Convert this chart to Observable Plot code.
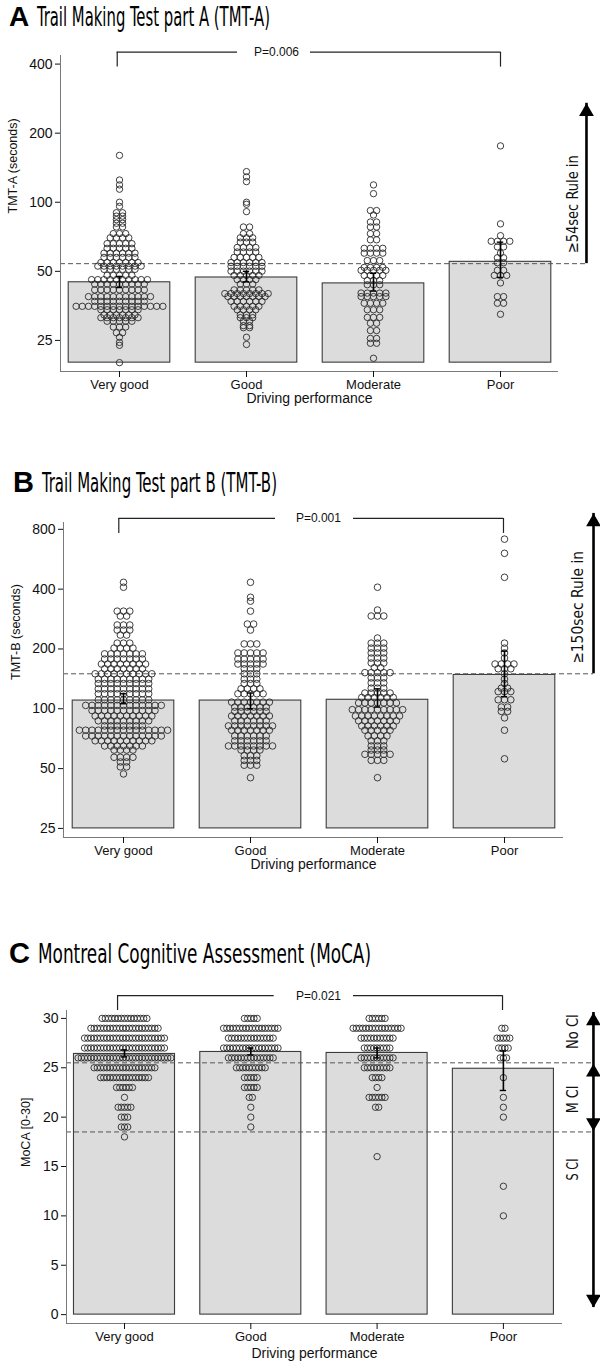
<!DOCTYPE html>
<html><head><meta charset="utf-8">
<script src="https://cdn.jsdelivr.net/npm/d3@7"></script>
<script src="https://cdn.jsdelivr.net/npm/@observablehq/plot@0.6"></script>
<style>
body{margin:0;background:#fff;}
#root{position:relative;width:600px;height:1367px;overflow:hidden;font-family:"Liberation Sans",Arial,sans-serif;}
#root svg{position:absolute;left:0;}
</style></head><body><div id="root"></div>
<script>
const groups = ["Very good", "Good", "Moderate", "Poor"];

// ---------- Panel A: TMT-A (seconds); rows of [seconds, number of drivers]
const tmtAVeryGood = [[160,1],[125,1],[119,1],[114,1],[100,1],[96,1],[90,2],[87,2],[84,2],[81,2],[78,2],[73,3],[70,4],[66,5],[63,5],[60,6],[57.5,6],[54.6,7],[52.7,8],[51,6],[48,5],[46,10],[44,9],[41.5,9],[38.8,11],[37,9],[35.2,15],[34,7],[32.3,6],[31.4,7],[30.3,5],[28.6,3],[27,2],[25.8,1],[24.5,1],[23.8,1],[20,1]];
const tmtAGood = [[136,1],[129,1],[123,1],[100,1],[98,1],[91,1],[78,2],[73,2],[70,3],[67,3],[63.5,4],[60.7,4],[57.5,5],[54.6,6],[52.6,6],[50.1,6],[48,5],[46,4],[44,3],[41.5,5],[40,8],[38.8,7],[37,6],[35.2,5],[34,4],[32.3,3],[31.4,3],[30.3,2],[29,2],[28.4,2],[25.8,1],[24,1]];
const tmtAModerate = [[119,1],[109,1],[92,2],[88,1],[82,2],[78,2],[73,2],[68.6,2],[63,4],[60,4],[55.7,3],[52,4],[50.5,5],[48,4],[45.6,3],[43.7,3],[40.2,5],[38.8,5],[36.3,4],[34,3],[31.5,3],[29.7,2],[27.6,2],[25.5,2],[24.3,2],[20.9,1]];
const tmtAPoor = [[176,1],[80.5,1],[71.5,1],[67.6,4],[63.9,2],[60,1],[57.3,2],[54.5,2],[50.5,2],[48,3],[44.5,1],[38.8,2],[36.3,2],[32.5,1]];
const tmtAMean = [44.8, 47.0, 44.3, 55.0];
const tmtACiLow = [42.5, 45.0, 41.0, 47.0];
const tmtACiHigh = [47.5, 50.0, 49.0, 67.0];
const tmtATicks = [25, 50, 100, 200, 400];
const tmtACutoff = [54];

// ---------- Panel B: TMT-B (seconds)
const tmtBVeryGood = [[433,1],[409,1],[310,3],[293,2],[264,3],[249,3],[235,2],[214,3],[202,4],[189,7],[178,7],[168,8],[159,7],[150,10],[141,9],[134,9],[126,9],[119,9],[111,9],[104,13],[98,11],[92,10],[87,9],[82,7],[78,15],[73,13],[69,10],[65,7],[62,4],[57,4],[54,2],[51,2],[47,1]];
const tmtBGood = [[433,1],[364,1],[348,1],[310,1],[267,2],[249,1],[212,3],[191,5],[178,5],[168,5],[159,3],[150,3],[141,3],[134,3],[126,4],[119,5],[108,7],[102,6],[97,6],[92,7],[87,6],[82,8],[78,7],[73,6],[69,6],[65,8],[62,4],[58,3],[55,3],[52,3],[45,1]];
const tmtBModerate = [[409,1],[314,1],[293,3],[227,1],[214,3],[202,3],[191,3],[180,3],[170,3],[161,2],[152,5],[143,3],[135,3],[127,3],[120,5],[114,6],[107,7],[99,9],[92,8],[87,7],[82,6],[78,5],[73,4],[69,3],[65,3],[62,3],[59,5],[55,3],[45,1]];
const tmtBPoor = [[714,1],[606,1],[459,1],[214,1],[202,1],[191,1],[180,1],[168,4],[159,3],[150,1],[141,1],[134,1],[127,2],[122,3],[111,3],[102,2],[97,2],[90,1],[78,1],[56,1]];
const tmtBMean = [110, 110, 111, 148];
const tmtBCiLow = [106, 100, 102, 115];
const tmtBCiHigh = [119, 120, 126, 195];
const tmtBTicks = [25, 50, 100, 200, 400, 800];
const tmtBCutoff = [150];

// ---------- Panel C: MoCA [0-30]
const mocaVeryGood = [[30,15],[29,22],[28,26],[27,26],[26,30],[25,20],[24,16],[23,6],[22,1],[21,5],[20,3],[19,3],[18,1]];
const mocaGood = [[30,5],[29,18],[28,15],[27,18],[26,15],[25,10],[24,5],[23,5],[22,2],[21,1],[20,1],[19,1]];
const mocaModerate = [[30,6],[29,16],[28,11],[27,9],[26,11],[25,9],[24,4],[23,1],[22,6],[21,2],[16,1]];
const mocaPoor = [[29,2],[28,5],[27,4],[26,3],[24,1],[22,1],[21,1],[20,1],[13,1],[10,1]];
const mocaMean = [26.4, 26.6, 26.5, 24.9];
const mocaCiLow = [26.1, 26.3, 26.0, 22.7];
const mocaCiHigh = [26.8, 27.0, 27.0, 26.7];
const mocaTicks = [0, 5, 10, 15, 20, 25, 30];
const mocaCutoffs = [25.5, 18.5];

// ---------- Titles and annotations
const panelLetters = ["A", "B", "C"];
const panelTitles = ["Trail Making Test part A (TMT-A)", "Trail Making Test part B (TMT-B)", "Montreal Cognitive Assessment (MoCA)"];
const pValues = ["P=0.006", "P=0.001", "P=0.021"];
const yLabels = ["TMT-A (seconds)", "TMT-B (seconds)", "MoCA [0-30]"];
const xLabel = "Driving performance";

const condensed = "'Liberation Sans Narrow','DejaVu Sans Condensed','Arial Narrow',sans-serif";
const fitLengths = new Map();

function makePanel(cfg) {
  const lo = (cfg.marginLeft - cfg.c0) / cfg.p;
  const hi = (600 - cfg.marginRight - cfg.c0) / cfg.p;
  const sp = cfg.spacingPx / cfg.p;
  const dots = [];
  cfg.rows.forEach((grp, i) => grp.forEach(([v, n]) => {
    for (let j = 0; j < n; j++) dots.push({x: i + (j - (n - 1) / 2) * sp, y: v});
  }));
  const bars = groups.map((g, i) => ({i, mean: cfg.mean[i], lo: cfg.ciLow[i], hi: cfg.ciHigh[i]}));
  const b = cfg.bracket;
  cfg.sideTexts.forEach(d => fitLengths.set(d.t, d.len));
  const svg = Plot.plot({
    width: 600, height: cfg.height,
    marginTop: cfg.marginTop, marginBottom: cfg.marginBottom,
    marginLeft: cfg.marginLeft, marginRight: cfg.marginRight,
    x: {type: "linear", domain: [lo, hi]},
    y: {type: cfg.yType, domain: cfg.yDomain},
    style: {fontFamily: "'Liberation Sans', Arial, sans-serif", fontSize: "13px", color: "#111", background: "transparent", overflow: "visible"},
    marks: [
      Plot.rect(bars, {x1: d => d.i - 0.4, x2: d => d.i + 0.4, y1: () => cfg.barBase, y2: "mean", fill: "#dcdcdc", stroke: "#3c3c3c", strokeWidth: 1.1}),
      Plot.ruleY(cfg.cutoffs, {y: d => d, x1: () => lo, x2: () => cfg.arrowX, stroke: "#555", strokeWidth: 1, strokeDasharray: "5,3"}),
      Plot.dot(dots, {x: "x", y: "y", r: cfg.r, stroke: "#2a2a2a", strokeWidth: 0.9, fill: "none"}),
      Plot.ruleX(bars, {x: "i", y1: "lo", y2: "hi", stroke: "black", strokeWidth: 1.6}),
      Plot.ruleY(bars, {y: "lo", x1: d => d.i - 0.025, x2: d => d.i + 0.025, stroke: "black", strokeWidth: 1.4}),
      Plot.ruleY(bars, {y: "hi", x1: d => d.i - 0.025, x2: d => d.i + 0.025, stroke: "black", strokeWidth: 1.4}),
      Plot.ruleX([lo], {x: d => d, y1: () => cfg.yDomain[0], y2: () => cfg.yDomain[1], stroke: "#7a7a7a"}),
      Plot.ruleY([cfg.yDomain[0]], {y: d => d, x1: () => lo, x2: () => hi, stroke: "#7a7a7a"}),
      Plot.axisY(cfg.yTicks, {ticks: 1000, tickSize: 5, tickPadding: 3, tickFormat: d => String(d), label: null, fontSize: 14}),
      Plot.axisX([0, 1, 2, 3], {tickFormat: i => groups[i], tickSize: 6, tickPadding: 2, label: null, fontSize: 13}),
      Plot.text([cfg.yLabel], {frameAnchor: "left", dx: cfg.yLabelDx, rotate: -90, fontSize: 12.5}),
      Plot.text([xLabel], {frameAnchor: "bottom", dy: cfg.xLabelDy, fontSize: 14}),
      Plot.ruleX([b.x1, b.x2], {x: d => d, y1: () => b.yLow, y2: () => b.y, stroke: "#222", strokeWidth: 1.2}),
      Plot.ruleY([[b.x1, b.gap[0]], [b.gap[1], b.x2]], {y: () => b.y, x1: d => d[0], x2: d => d[1], stroke: "#222", strokeWidth: 1.2}),
      Plot.text([cfg.pText], {x: () => b.tx, y: () => b.y, fontSize: 12}),
      Plot.ruleX(cfg.arrowLines, {x: () => cfg.arrowX, y1: d => d[0], y2: d => d[1], stroke: "black", strokeWidth: 2.6}),
      Plot.dot(cfg.headsUp, {x: () => cfg.arrowX, y: d => d, symbol: "triangle", r: 5.5, fill: "black", stroke: "none", dy: 8.5}),
      Plot.dot(cfg.headsDown, {x: () => cfg.arrowX, y: d => d, symbol: "triangle", r: 5.5, fill: "black", stroke: "none", rotate: 180, dy: -8.5}),
      Plot.text(cfg.sideTexts, {x: () => cfg.textX, y: "y", text: "t", rotate: -90, fontSize: 16, fontFamily: condensed, fill: "#111"})
    ]
  });
  d3.select(svg).selectAll("text").each(function () {
    const t = this.textContent;
    if (fitLengths.has(t)) d3.select(this).attr("textLength", fitLengths.get(t)).attr("lengthAdjust", "spacingAndGlyphs");
  });
  svg.style.top = cfg.top + "px";
  return svg;
}

const root = document.getElementById("root");

root.appendChild(makePanel({
  rows: [tmtAVeryGood, tmtAGood, tmtAModerate, tmtAPoor],
  mean: tmtAMean, ciLow: tmtACiLow, ciHigh: tmtACiHigh,
  yType: "log", yDomain: [18.3, 436], yTicks: tmtATicks, barBase: 20,
  top: 0, height: 420, marginTop: 55, marginBottom: 49, marginLeft: 60, marginRight: 42,
  c0: 119, p: 127, spacingPx: 6.2, r: 3.2,
  cutoffs: tmtACutoff, arrowX: 3.677, arrowLines: [[54, 270]], headsUp: [270], headsDown: [],
  textX: 3.567, sideTexts: [{t: "≥54sec Rule in", y: 98, len: 98}],
  bracket: {x1: -0.018, x2: 3.0, y: 451, yLow: 388, gap: [0.929, 1.504], tx: 1.236},
  pText: pValues[0], yLabel: yLabels[0], yLabelDx: -48, xLabelDy: 31
}));

root.appendChild(makePanel({
  rows: [tmtBVeryGood, tmtBGood, tmtBModerate, tmtBPoor],
  mean: tmtBMean, ciLow: tmtBCiLow, ciHigh: tmtBCiHigh,
  yType: "log", yDomain: [22.5, 866], yTicks: tmtBTicks, barBase: 25,
  top: 460, height: 430, marginTop: 62, marginBottom: 53, marginLeft: 63, marginRight: 37,
  c0: 123, p: 127, spacingPx: 6.3, r: 3.3,
  cutoffs: tmtBCutoff, arrowX: 3.701, arrowLines: [[150, 962]], headsUp: [962], headsDown: [],
  textX: 3.575, sideTexts: [{t: "≥150sec Rule in", y: 324, len: 113}],
  bracket: {x1: -0.037, x2: 2.992, y: 908, yLow: 763, gap: [1.197, 1.811], tx: 1.535},
  pText: pValues[1], yLabel: yLabels[1], yLabelDx: -48, xLabelDy: 31
}));

root.appendChild(makePanel({
  rows: [mocaVeryGood, mocaGood, mocaModerate, mocaPoor],
  mean: mocaMean, ciLow: mocaCiLow, ciHigh: mocaCiHigh,
  yType: "linear", yDomain: [-0.9, 30.8], yTicks: mocaTicks, barBase: 0,
  top: 980, height: 387, marginTop: 30, marginBottom: 44, marginLeft: 66, marginRight: 38,
  c0: 124, p: 126.3, spacingPx: 3.2, r: 3.2,
  cutoffs: mocaCutoffs, arrowX: 3.713, arrowLines: [[0.72, 30.6]], headsUp: [30.6, 25.4], headsDown: [18.6, 0.72],
  textX: 3.547, sideTexts: [{t: "No CI", y: 28.67, len: 35}, {t: "M CI", y: 21.8, len: 28}, {t: "S CI", y: 14.7, len: 22}],
  bracket: {x1: -0.055, x2: 2.993, y: 32.3, yLow: 30.8, gap: [1.185, 1.813], tx: 1.536},
  pText: pValues[2], yLabel: yLabels[2], yLabelDx: -41, xLabelDy: 34
}));

// Titles
const titlePos = [
  {lx: 9, tx: 37, base: 26, ls: 28, ts: 27, len: 233},
  {lx: 13, tx: 42, base: 492, ls: 29, ts: 27, len: 235},
  {lx: 9, tx: 38, base: 963, ls: 29, ts: 27, len: 333}
];
const tsvg = d3.create("svg").attr("width", 600).attr("height", 1367).style("top", "0px").style("pointer-events", "none");
titlePos.forEach((p, k) => {
  tsvg.append("text").attr("x", p.lx).attr("y", p.base).attr("font-family", "'Liberation Sans', Arial, sans-serif")
    .attr("font-weight", "bold").attr("font-size", p.ls).attr("fill", "#000").text(panelLetters[k]);
  tsvg.append("text").attr("x", p.tx).attr("y", p.base).attr("font-family", condensed)
    .attr("font-size", p.ts).attr("fill", "#000").attr("textLength", p.len).attr("lengthAdjust", "spacingAndGlyphs").text(panelTitles[k]);
});
root.appendChild(tsvg.node());
</script></body></html>
